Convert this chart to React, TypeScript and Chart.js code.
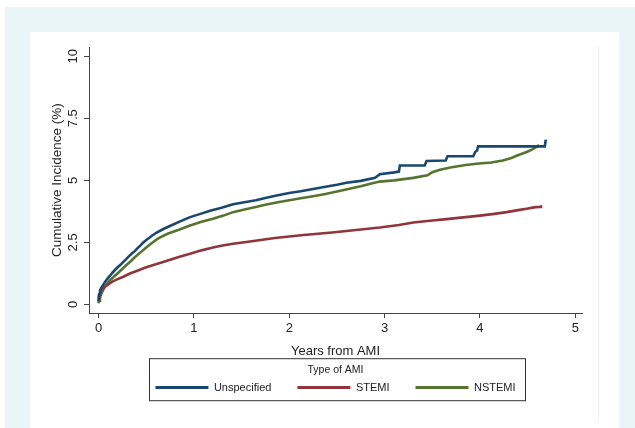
import React, { useEffect, useRef } from "react";
import { Chart, registerables } from "chart.js";

Chart.register(...registerables);

// ---- data ----
const SERIES_NAMES = ["Unspecified", "STEMI", "NSTEMI"];
const X_TICKS = [0, 1, 2, 3, 4, 5];
const X_TICK_LABELS = ["0", "1", "2", "3", "4", "5"];
const Y_TICKS = [0, 2.5, 5, 7.5, 10];
const Y_TICK_LABELS = ["0", "2.5", "5", "7.5", "10"];

const unspecifiedYears = [
  0, 0.005, 0.015, 0.03, 0.05, 0.066, 0.085, 0.1, 0.125, 0.15, 0.175, 0.2, 0.23, 0.26, 0.29, 0.32,
  0.35, 0.38, 0.41, 0.44, 0.47, 0.5, 0.53, 0.556, 0.61, 0.68, 0.76, 0.85, 0.96, 1.06, 1.17, 1.29,
  1.41, 1.53, 1.65, 1.76, 1.88, 2.0, 2.12, 2.25, 2.38, 2.5, 2.6, 2.75, 2.9, 2.95, 3.1, 3.15, 3.16,
  3.42, 3.44, 3.64, 3.66, 3.93, 3.95, 3.97, 3.98, 4.68, 4.69,
];
const unspecifiedPct = [
  0.15, 0.4, 0.56, 0.68, 0.8, 0.9, 1.0, 1.07, 1.18, 1.3, 1.4, 1.5, 1.6, 1.72, 1.83, 1.95, 2.05,
  2.15, 2.27, 2.38, 2.5, 2.6, 2.68, 2.76, 2.9, 3.04, 3.18, 3.34, 3.52, 3.64, 3.78, 3.9, 4.04, 4.12,
  4.2, 4.3, 4.4, 4.49, 4.56, 4.65, 4.74, 4.82, 4.9, 4.98, 5.1, 5.25, 5.32, 5.35, 5.6, 5.6, 5.78,
  5.8, 5.97, 5.97, 6.14, 6.2, 6.37, 6.37, 6.64,
];

const stemiYears = [
  0, 0.005, 0.015, 0.03, 0.05, 0.08, 0.12, 0.15, 0.2, 0.26, 0.33, 0.42, 0.5, 0.61, 0.71, 0.85,
  0.96, 1.08, 1.2, 1.3, 1.41, 1.55, 1.7, 1.85, 2.0, 2.15, 2.3, 2.45, 2.6, 2.75, 2.95, 3.15, 3.3,
  3.5, 3.65, 3.8, 4.0, 4.15, 4.28, 4.4, 4.49, 4.58, 4.63, 4.64,
];
const stemiPct = [
  0.12, 0.3, 0.45, 0.55, 0.65, 0.75, 0.86, 0.93, 1.02, 1.12, 1.25, 1.38, 1.5, 1.63, 1.75, 1.92,
  2.04, 2.18, 2.3, 2.38, 2.45, 2.52, 2.6, 2.68, 2.74, 2.8, 2.85, 2.9, 2.96, 3.02, 3.1, 3.2, 3.3,
  3.38, 3.44, 3.5, 3.58, 3.65, 3.72, 3.8, 3.86, 3.92, 3.93, 4.0,
];

const nstemiYears = [
  0, 0.005, 0.015, 0.03, 0.05, 0.08, 0.12, 0.155, 0.19, 0.24, 0.29, 0.34, 0.38, 0.44, 0.5, 0.56,
  0.61, 0.67, 0.73, 0.85, 0.96, 1.08, 1.2, 1.31, 1.41, 1.53, 1.65, 1.76, 1.88, 2.0, 2.12, 2.25,
  2.38, 2.5, 2.62, 2.75, 2.85, 2.95, 3.1, 3.3, 3.45, 3.5, 3.58, 3.69, 3.85, 3.99, 4.12, 4.24,
  4.33, 4.39, 4.49, 4.55, 4.6, 4.62,
];
const nstemiPct = [
  0.05, 0.15, 0.3, 0.45, 0.6, 0.8, 0.98, 1.1, 1.22, 1.4, 1.58, 1.75, 1.9, 2.1, 2.3, 2.48, 2.62,
  2.75, 2.86, 3.02, 3.18, 3.33, 3.45, 3.58, 3.72, 3.83, 3.93, 4.03, 4.12, 4.2, 4.28, 4.36, 4.45,
  4.55, 4.65, 4.76, 4.86, 4.95, 5.0, 5.1, 5.2, 5.33, 5.43, 5.52, 5.62, 5.68, 5.72, 5.8, 5.9, 6.0,
  6.14, 6.25, 6.37, 6.42,
];

const SERIES_YEARS = [unspecifiedYears, stemiYears, nstemiYears];
const SERIES_PCT = [unspecifiedPct, stemiPct, nstemiPct];
const SERIES_COLORS = ["#1a476f", "#90353b", "#55752f"];

const FONT = "'Liberation Sans', Arial, Helvetica, sans-serif";
const TEXT = "#222222";
const AXIS = "#444444";

const legendBoxPlugin = {
  id: "legendBoxBorder",
  afterDraw(chart: any) {
    const lg = chart.legend;
    if (!lg || !lg.legendHitBoxes || !lg.legendHitBoxes.length) return;
    const hb = lg.legendHitBoxes;
    const l = Math.min(...hb.map((h: any) => h.left)) - 6.5;
    const r = Math.max(...hb.map((h: any) => h.left + h.width)) + 9.5;
    const t = lg.top + 0.5;
    const b = lg.top + 42.5;
    const ctx = chart.ctx;
    ctx.save();
    ctx.strokeStyle = "#333333";
    ctx.lineWidth = 1;
    ctx.strokeRect(Math.round(l) + 0.5, t, Math.round(r - l), b - t);
    ctx.restore();
  },
};

export default function App() {
  const ref = useRef<HTMLCanvasElement>(null);

  useEffect(() => {
    const canvas = ref.current;
    if (!canvas) return;
    const datasets = SERIES_NAMES.map((name, i) => ({
      label: name,
      data: SERIES_YEARS[i].map((t, k) => ({ x: t, y: SERIES_PCT[i][k] })),
      borderColor: SERIES_COLORS[i],
      backgroundColor: SERIES_COLORS[i],
      borderWidth: 2.6,
      pointRadius: 0,
      tension: 0,
      borderJoinStyle: "miter",
      fill: false,
    }));

    const chart = new Chart(canvas, {
      type: "line",
      data: { datasets },
      plugins: [legendBoxPlugin],
      options: {
        responsive: false,
        devicePixelRatio: 1,
        animation: false,
        layout: { padding: { left: 30, top: 47, right: 53, bottom: 25 } },
        plugins: {
          tooltip: { enabled: false },
          legend: {
            position: "bottom",
            fullSize: false,
            maxHeight: 44.8,
            title: {
              display: true,
              text: "Type of AMI",
              color: TEXT,
              font: { family: FONT, size: 10.5 },
              padding: { top: 7, bottom: -21.8 },
            },
            labels: {
              boxWidth: 53,
              boxHeight: 3,
              padding: 26,
              color: TEXT,
              font: { family: FONT, size: 11 },
              generateLabels: (c: any) =>
                c.data.datasets.map((ds: any, i: number) => ({
                  text: ds.label,
                  fillStyle: ds.borderColor,
                  strokeStyle: ds.borderColor,
                  lineWidth: 0,
                  hidden: false,
                  datasetIndex: i,
                  fontColor: TEXT,
                })),
            },
          },
        },
        scales: {
          x: {
            type: "linear",
            min: -0.1,
            max: 5.07,
            afterBuildTicks: (s: any) => {
              s.ticks = X_TICKS.map((v) => ({ value: v }));
            },
            afterFit: (s: any) => {
              s.height = 45;
            },
            ticks: {
              autoSkip: false,
              maxRotation: 0,
              minRotation: 0,
              padding: 2,
              color: TEXT,
              font: { family: FONT, size: 13 },
              callback: (v: any) => {
                const i = X_TICKS.indexOf(Number(v));
                return i >= 0 ? X_TICK_LABELS[i] : "";
              },
            },
            grid: {
              display: true,
              drawOnChartArea: false,
              drawTicks: true,
              tickLength: 5,
              color: AXIS,
              lineWidth: 1,
            },
            border: { display: true, color: AXIS, width: 1 },
            title: {
              display: true,
              text: "Years from AMI",
              color: TEXT,
              font: { family: FONT, size: 13 },
              padding: { top: 0, bottom: -1 },
            },
          },
          y: {
            type: "linear",
            min: -0.35,
            max: 10.37,
            afterBuildTicks: (s: any) => {
              s.ticks = Y_TICKS.map((v) => ({ value: v }));
            },
            afterFit: (s: any) => {
              s.width = 59;
            },
            ticks: {
              autoSkip: false,
              minRotation: 90,
              maxRotation: 90,
              crossAlign: "center",
              padding: 2,
              color: TEXT,
              font: { family: FONT, size: 13 },
              callback: (v: any) => {
                const i = Y_TICKS.indexOf(Number(v));
                return i >= 0 ? Y_TICK_LABELS[i] : "";
              },
            },
            grid: {
              display: true,
              drawOnChartArea: false,
              drawTicks: true,
              tickLength: 5,
              color: AXIS,
              lineWidth: 1,
            },
            border: { display: true, color: AXIS, width: 1 },
            title: {
              display: true,
              text: "Cumulative Incidence (%)",
              color: TEXT,
              font: { family: FONT, size: 13.5 },
              padding: { top: 19, bottom: 0 },
            },
          },
        },
      } as any,
    });
    return () => chart.destroy();
  }, []);

  return (
    <div
      style={{
        position: "fixed",
        left: 0,
        top: 0,
        width: 635,
        height: 428,
        background: "#ffffff",
        overflow: "hidden",
      }}
    >
      <div style={{ position: "absolute", left: 5, top: 7, width: 630, height: 421, background: "#eaf5f8" }} />
      <div style={{ position: "absolute", left: 30, top: 32, width: 589, height: 396, background: "#ffffff" }} />
      <div style={{ position: "absolute", left: 598, top: 46, width: 1, height: 374, background: "#eef2f4" }} />
      <canvas
        ref={ref}
        width={635}
        height={428}
        style={{ position: "absolute", left: 0, top: 0, width: 635, height: 428 }}
      />
    </div>
  );
}
